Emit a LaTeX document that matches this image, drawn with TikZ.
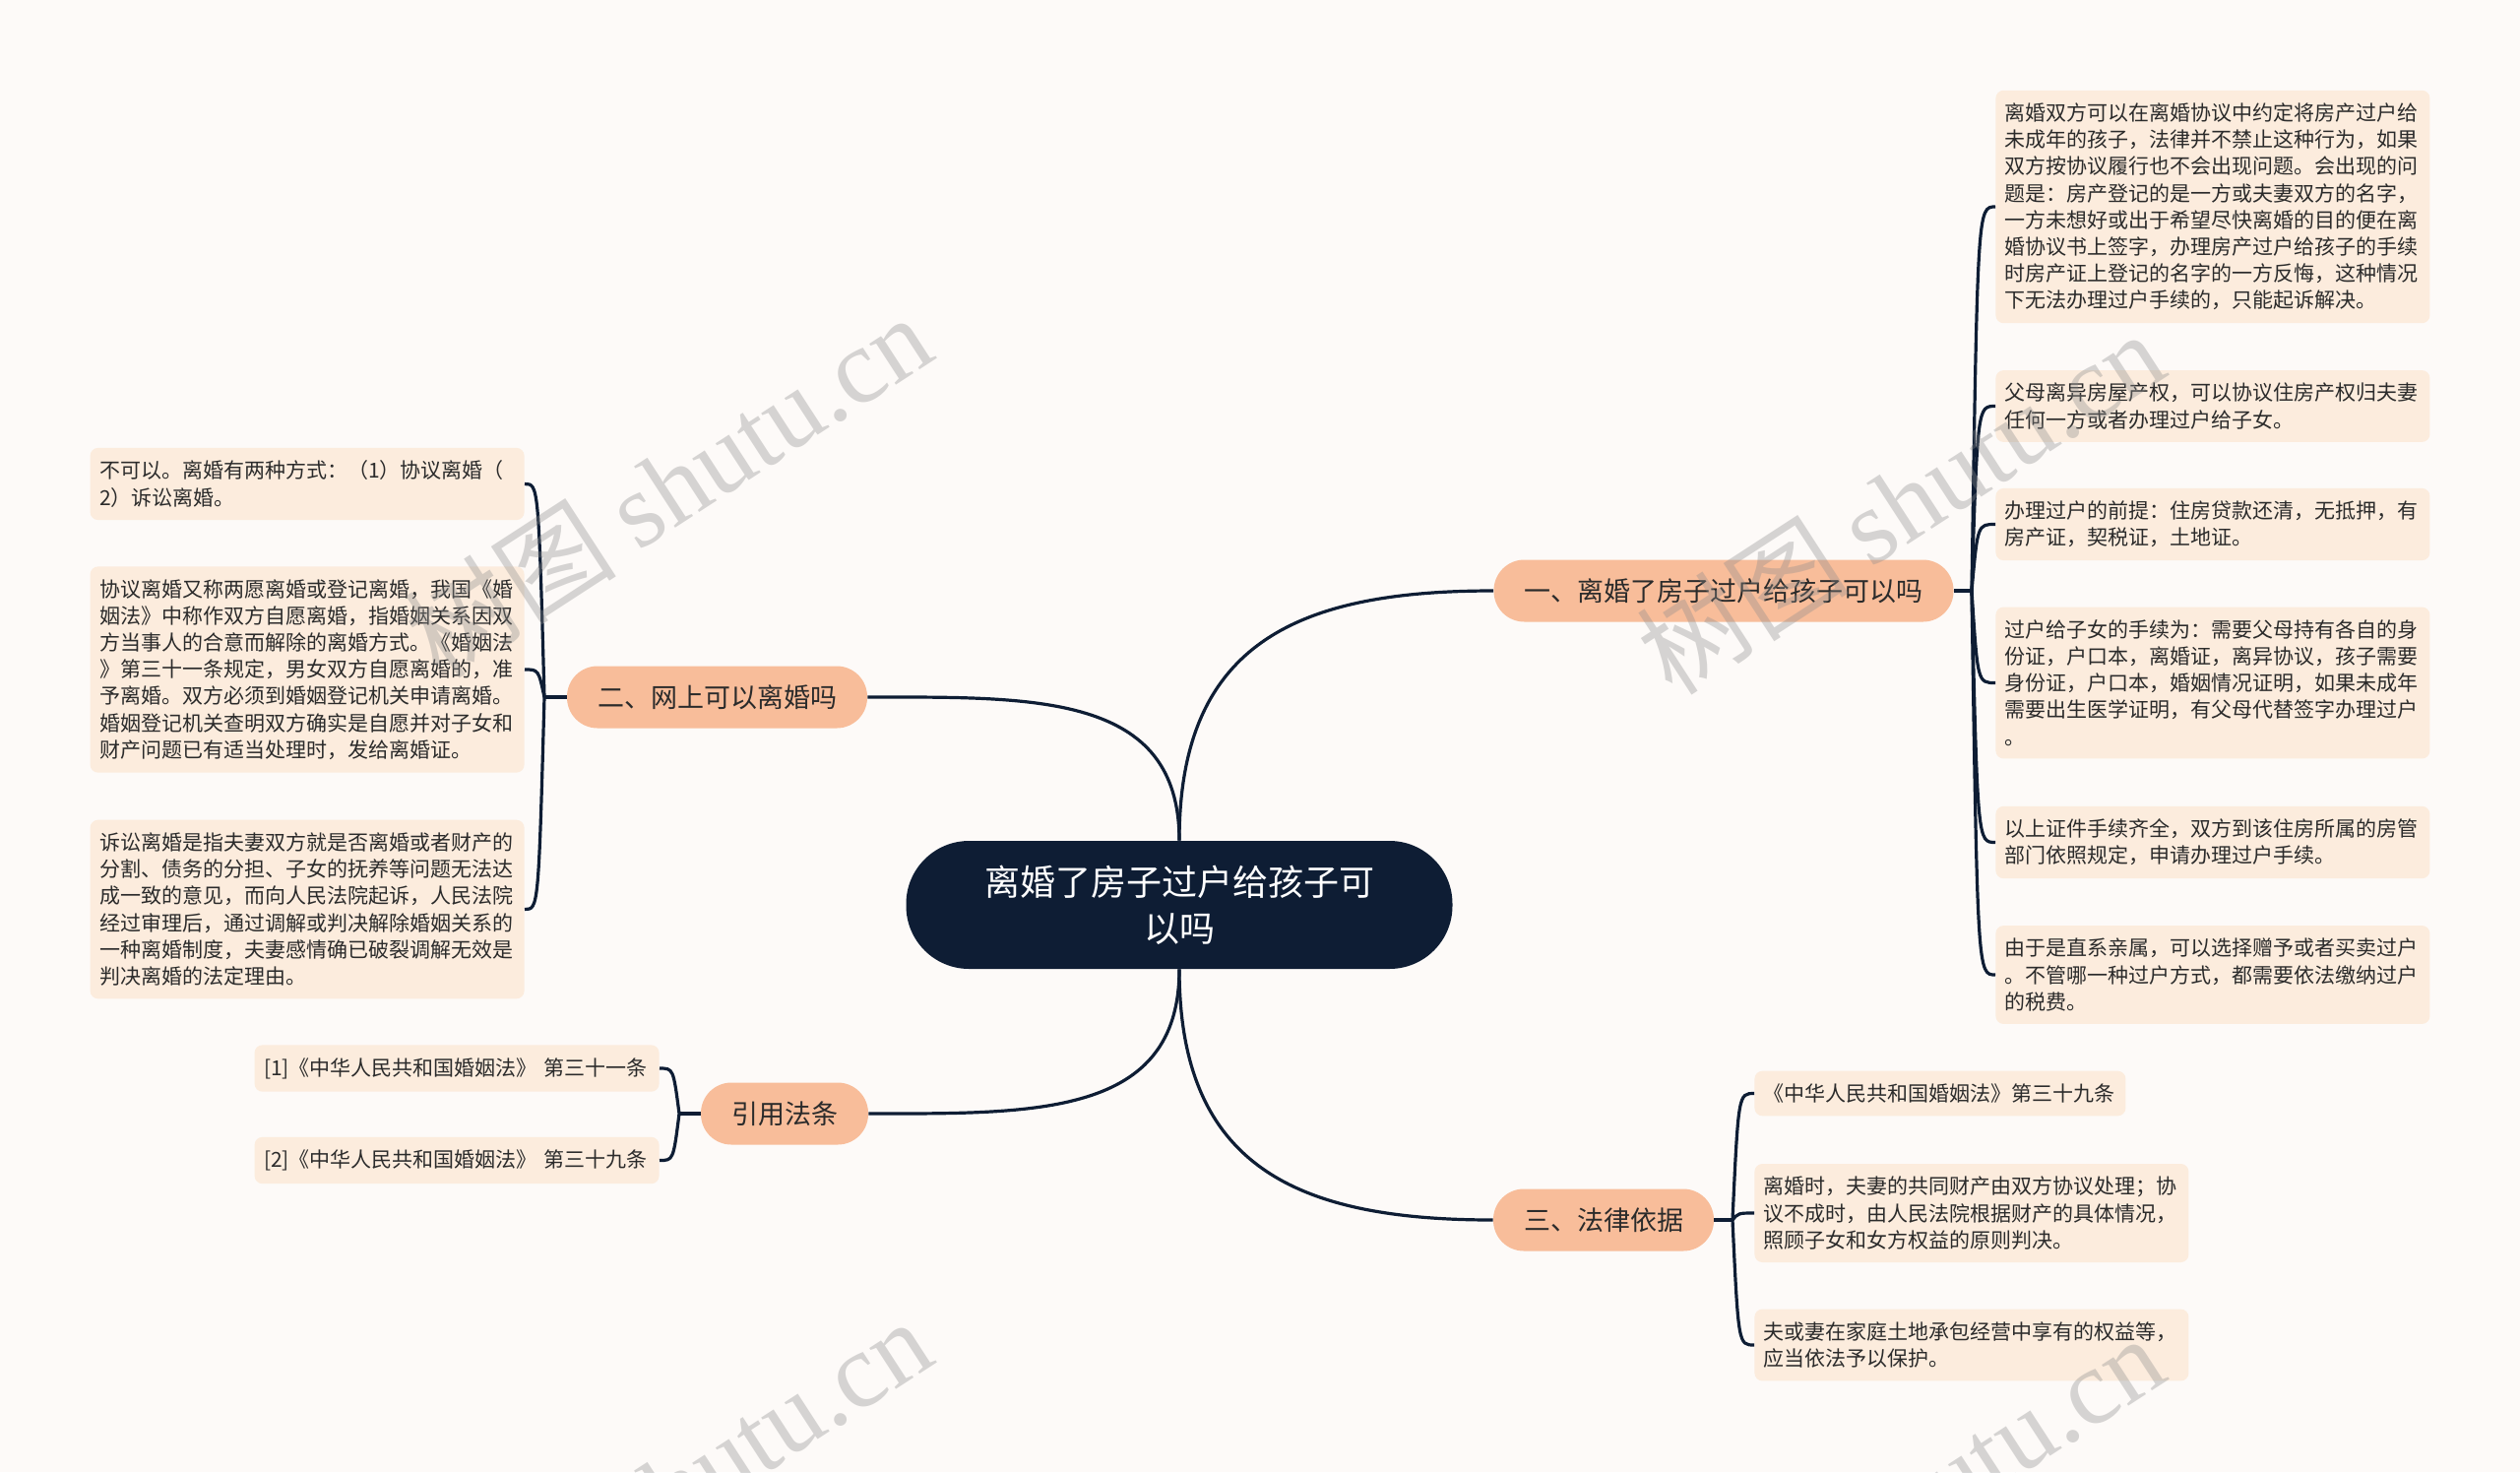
\documentclass[tikz,border=0pt]{standalone}
\usepackage{fontspec}
\setmainfont{Noto Sans CJK SC}
\newfontfamily\wmlatin{Liberation Serif}
\usetikzlibrary{calc}
\definecolor{bgc}{HTML}{FDFAF8}
\definecolor{leafc}{HTML}{FCECDD}
\definecolor{branchc}{HTML}{F8BD9A}
\definecolor{navy}{HTML}{0E1D34}
\definecolor{txt}{HTML}{2B2B2B}
\begin{document}
\begin{tikzpicture}[x=0.5pt,y=-0.5pt,
  conn/.style={draw=navy,line width=1.6pt},
  leaf/.style={fill=leafc,rounded corners=4pt,inner xsep=4.75pt,inner ysep=6.5pt,align=left,text=txt,font=\fontsize{10.5pt}{13.6pt}\selectfont,text width=211pt},
  branch/.style={fill=branchc,rounded corners=15.5pt,inner xsep=15.5pt,minimum height=31.5pt,text=txt,font=\fontsize{13.5pt}{16pt}\selectfont},
  rootnode/.style={fill=navy,text=white,rounded corners=32pt,minimum width=277.5pt,minimum height=65pt,align=center,font=\fontsize{18pt}{23.5pt}\selectfont},
  wm/.style={text=black!45,opacity=0.35,rotate=33,font=\fontsize{54pt}{58pt}\selectfont}
]
\useasboundingbox (0,0) rectangle (2560,1495);
\clip (0,0) rectangle (2560,1495);
\fill[bgc] (0,0) rectangle (2560,1495);

% root and branches
\node[rootnode] (c) at (1198,919) {离婚了房子过户给孩子可\\以吗};
\node[branch] (b1) at (1751,600) {一、离婚了房子过户给孩子可以吗};
\node[branch] (b2) at (728.5,708) {二、网上可以离婚吗};
\node[branch] (b3) at (797,1131) {引用法条};
\node[branch] (b4) at (1629,1239) {三、法律依据};

% right leaves of b1
\node[leaf,anchor=west] (r1) at (2027,210) {离婚双方可以在离婚协议中约定将房产过户给\\未成年的孩子，法律并不禁止这种行为，如果\\双方按协议履行也不会出现问题。会出现的问\\题是：房产登记的是一方或夫妻双方的名字，\\一方未想好或出于希望尽快离婚的目的便在离\\婚协议书上签字，办理房产过户给孩子的手续\\时房产证上登记的名字的一方反悔，这种情况\\下无法办理过户手续的，只能起诉解决。};
\node[leaf,anchor=west] (r2) at (2027,412.5) {父母离异房屋产权，可以协议住房产权归夫妻\\任何一方或者办理过户给子女。};
\node[leaf,anchor=west] (r3) at (2027,532.5) {办理过户的前提：住房贷款还清，无抵押，有\\房产证，契税证，土地证。};
\node[leaf,anchor=west] (r4) at (2027,693.5) {过户给子女的手续为：需要父母持有各自的身\\份证，户口本，离婚证，离异协议，孩子需要\\身份证，户口本，婚姻情况证明，如果未成年\\需要出生医学证明，有父母代替签字办理过户\\。};
\node[leaf,anchor=west] (r5) at (2027,855.5) {以上证件手续齐全，双方到该住房所属的房管\\部门依照规定，申请办理过户手续。};
\node[leaf,anchor=west] (r6) at (2027,990) {由于是直系亲属，可以选择赠予或者买卖过户\\。不管哪一种过户方式，都需要依法缴纳过户\\的税费。};

% left leaves of b2
\node[leaf,anchor=east] (l1) at (533,491.5) {不可以。离婚有两种方式：（1）协议离婚（\\2）诉讼离婚。};
\node[leaf,anchor=east] (l2) at (533,680) {协议离婚又称两愿离婚或登记离婚，我国《婚\\姻法》中称作双方自愿离婚，指婚姻关系因双\\方当事人的合意而解除的离婚方式。《婚姻法\\》第三十一条规定，男女双方自愿离婚的，准\\予离婚。双方必须到婚姻登记机关申请离婚。\\婚姻登记机关查明双方确实是自愿并对子女和\\财产问题已有适当处理时，发给离婚证。};
\node[leaf,anchor=east] (l3) at (533,923.5) {诉讼离婚是指夫妻双方就是否离婚或者财产的\\分割、债务的分担、子女的抚养等问题无法达\\成一致的意见，而向人民法院起诉，人民法院\\经过审理后，通过调解或判决解除婚姻关系的\\一种离婚制度，夫妻感情确已破裂调解无效是\\判决离婚的法定理由。};

% leaves of b3
\node[leaf,anchor=east,text width=196pt] (c1) at (670,1085) {[1]《中华人民共和国婚姻法》 第三十一条};
\node[leaf,anchor=east,text width=196pt] (c2) at (670,1178.5) {[2]《中华人民共和国婚姻法》 第三十九条};

% leaves of b4
\node[leaf,anchor=west,text width=179pt] (s1) at (1782,1110.5) {《中华人民共和国婚姻法》第三十九条};
\node[leaf,anchor=west] (s2) at (1782,1232) {离婚时，夫妻的共同财产由双方协议处理；协\\议不成时，由人民法院根据财产的具体情况，\\照顾子女和女方权益的原则判决。};
\node[leaf,anchor=west] (s3) at (1782,1366) {夫或妻在家庭土地承包经营中享有的权益等，\\应当依法予以保护。};

% junctions
\coordinate (J1) at (2003,600);
\coordinate (J2) at (553,708);
\coordinate (J3) at (690,1131);
\coordinate (J4) at (1760,1239);

% root connectors
\draw[conn] (c.north) .. controls +(0,-200) and +(-200,0) .. (b1.west);
\draw[conn] (c.north) .. controls +(0,-150) and +(170,0) .. (b2.east);
\draw[conn] (c.south) .. controls +(0,150) and +(170,0) .. (b3.east);
\draw[conn] (c.south) .. controls +(0,200) and +(-200,0) .. (b4.west);

% branch stubs
\draw[conn] (b1.east) -- (J1);
\draw[conn] (b2.west) -- (J2);
\draw[conn] (b3.west) -- (J3);
\draw[conn] (b4.east) -- (J4);

% leaf connectors
\foreach \n in {r1,r2,r3,r4,r5,r6}
  \draw[conn] (J1) .. controls ($(J1|-\n.west)+(6,0)$) .. (\n.west);
\foreach \n in {l1,l2,l3}
  \draw[conn] (J2) .. controls ($(J2|-\n.east)+(-6,0)$) .. (\n.east);
\foreach \n in {c1,c2}
  \draw[conn] (J3) .. controls ($(J3|-\n.east)+(-6,0)$) .. (\n.east);
\foreach \n in {s1,s2,s3}
  \draw[conn] (J4) .. controls ($(J4|-\n.west)+(6,0)$) .. (\n.west);

% watermarks
\node[wm] (w1) at (678,493) {树图 {\wmlatin shutu.cn}};
\node[wm] (w2) at (1930,510) {树图 {\wmlatin shutu.cn}};
\node[wm] (w3) at (678,1513) {树图 {\wmlatin shutu.cn}};
\node[wm] (w4) at (1930,1530) {树图 {\wmlatin shutu.cn}};
\end{tikzpicture}
\end{document}
